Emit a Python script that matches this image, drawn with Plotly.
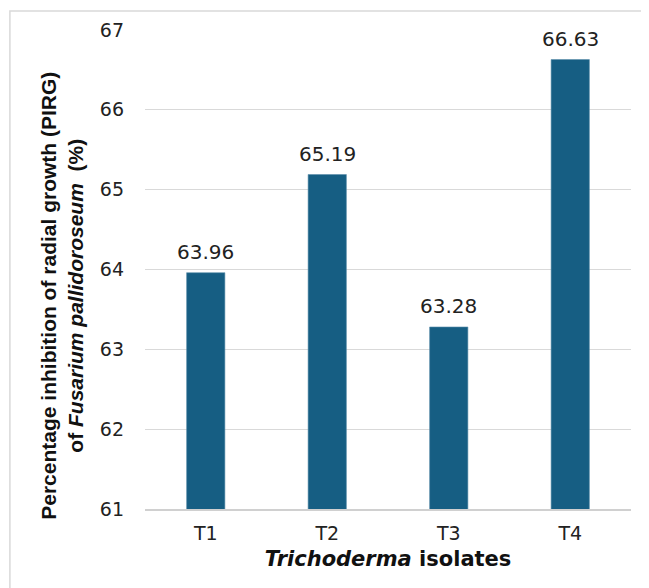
import plotly.graph_objects as go

categories = ["T1", "T2", "T3", "T4"]
values = [63.96, 65.19, 63.28, 66.63]
value_labels = ["63.96", "65.19", "63.28", "66.63"]
y_ticks = [61, 62, 63, 64, 65, 66, 67]
y_title = "<b>Percentage inhibition of radial growth (PIRG)<br>of <i>Fusarium pallidoroseum</i>  (%)</b>"
x_title = "<b><i>Trichoderma</i> isolates</b>"

bar_color = "#165e83"
font_h = "DejaVu Sans, Liberation Sans, Arial, sans-serif"
font_v = "Liberation Sans, Arial, sans-serif"

fig = go.Figure()
fig.add_trace(go.Bar(
    x=categories,
    y=values,
    marker=dict(color=bar_color, line=dict(color="#5c8fab", width=0.6)),
    width=0.315,
    hoverinfo="x+y",
))

for cat, val, lab in zip(categories, values, value_labels):
    fig.add_annotation(
        x=cat, y=val, text=lab, showarrow=False,
        yanchor="bottom", yshift=7,
        font=dict(family=font_h, size=20, color="#222222"),
    )

fig.add_annotation(
    xref="paper", yref="paper", x=-0.171, y=0.445,
    xanchor="center", yanchor="middle",
    text=y_title, textangle=-90, showarrow=False,
    font=dict(family=font_v, size=21, color="#111111"),
)

fig.update_layout(
    width=649, height=588,
    margin=dict(l=137, r=26, t=22, b=87),
    paper_bgcolor="white",
    plot_bgcolor="white",
    showlegend=False,
    font=dict(family=font_h, color="#222222"),
    xaxis=dict(
        showgrid=False,
        showline=True,
        linecolor="#d0d0d0",
        linewidth=1.5,
        ticks="",
        ticklabelstandoff=6,
        tickfont=dict(family=font_h, size=19, color="#222222"),
        title=dict(
            text=x_title,
            font=dict(family=font_h, size=21, color="#111111"),
            standoff=9,
        ),
    ),
    yaxis=dict(
        range=[61, 67],
        tickvals=y_ticks,
        showgrid=True,
        gridcolor="#d9d9d9",
        gridwidth=1,
        zeroline=False,
        showline=False,
        ticks="",
        ticklabelstandoff=20,
        tickfont=dict(family=font_h, size=19, color="#222222"),
    ),
    shapes=[dict(
        type="rect", xref="paper", yref="paper",
        x0=-0.278, x1=1.2, y0=-0.3, y1=1.0397,
        line=dict(color="#d9d9d9", width=1.5),
        fillcolor="rgba(0,0,0,0)",
        layer="below",
    )],
)

fig.write_html("out.html")
